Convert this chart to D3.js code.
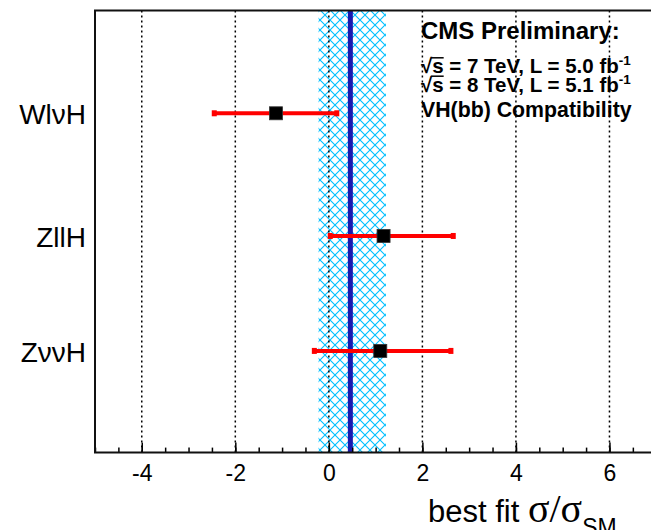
<!DOCTYPE html>
<html>
<head>
<meta charset="utf-8">
<script src="https://cdn.jsdelivr.net/npm/d3@7"></script>
<style>
  body { margin: 0; background: #fff; }
  svg { display: block; }
</style>
</head>
<body>
<svg id="chart" width="651" height="530"></svg>
<script>
// channel results
var channels = ["WlνH", "ZllH", "ZννH"];
var rowPos = [3.07, 1.96, 0.92];
var bestFit = [-1.13, 1.17, 1.10];
var errLow = [-2.45, 0.03, -0.31];
var errHigh = [0.17, 2.66, 2.61];

// combined fit and its band
var combined = 0.46;
var bandLow = -0.22;
var bandHigh = 1.22;

var xTicks = [-4, -2, 0, 2, 4, 6];
var xDomain = [-5, 8];
var yDomain = [0, 4];

var svg = d3.select("#chart");
var pLeft = 95, pRight = 703, pTop = 10.5, pBottom = 452.6;

var x = d3.scaleLinear().domain(xDomain).range([pLeft, pRight]);
var y = d3.scaleLinear().domain(yDomain).range([pBottom, pTop]);

// hatch pattern
var pat = svg.append("defs").append("pattern")
  .attr("id", "hatch")
  .attr("patternUnits", "userSpaceOnUse")
  .attr("width", 10).attr("height", 10);
pat.append("path").attr("d", "M0,0L10,10M10,0L0,10M-1,9L1,11M9,-1L11,1")
  .attr("stroke", "#00bfff").attr("stroke-width", 1.1).attr("fill", "none");

svg.append("rect")
  .attr("x", x(bandLow)).attr("y", pTop)
  .attr("width", x(bandHigh) - x(bandLow)).attr("height", pBottom - pTop)
  .attr("fill", "url(#hatch)");

// dotted grid
svg.append("g").selectAll("line").data(xTicks).enter().append("line")
  .attr("x1", function(d) { return x(d); }).attr("x2", function(d) { return x(d); })
  .attr("y1", pTop).attr("y2", pBottom)
  .attr("stroke", "#000").attr("stroke-width", 1.5).attr("stroke-dasharray", "2,3");

// combined line
svg.append("line")
  .attr("x1", x(combined)).attr("x2", x(combined))
  .attr("y1", pTop).attr("y2", pBottom)
  .attr("stroke", "#1a1ab0").attr("stroke-width", 5);

// x axis with inward ticks
var gx = svg.append("g").attr("transform", "translate(0," + pBottom + ")");
gx.append("g").call(d3.axisBottom(x).tickValues(d3.range(-5, 8.01, 0.5)).tickSize(-5).tickFormat(""))
  .call(function(g) { g.select(".domain").remove(); g.selectAll("line").attr("stroke-width", 1.5); });
gx.append("g").call(d3.axisBottom(x).tickValues(xTicks).tickSize(-10).tickPadding(12).tickFormat(d3.format("d")))
  .call(function(g) {
    g.select(".domain").remove();
    g.selectAll("line").attr("stroke-width", 1.5);
    g.selectAll("text").attr("font-family", "Liberation Sans, Arial, sans-serif")
      .attr("font-size", 23).attr("fill", "#000").text(function(d) { return d < 0 ? "-" + (-d) : d; });
  });

// frame
svg.append("path")
  .attr("d", "M" + (pRight + 5) + "," + pTop + "H" + pLeft + "V" + pBottom + "H" + (pRight + 5))
  .attr("fill", "none").attr("stroke", "#111").attr("stroke-width", 2);

// error bars
var rows = svg.append("g").selectAll("g").data(channels).enter().append("g");
rows.append("line")
  .attr("x1", function(d, i) { return x(errLow[i]); })
  .attr("x2", function(d, i) { return x(errHigh[i]); })
  .attr("y1", function(d, i) { return y(rowPos[i]); })
  .attr("y2", function(d, i) { return y(rowPos[i]); })
  .attr("stroke", "#ff0000").attr("stroke-width", 4);
rows.selectAll("rect.cap")
  .data(function(d, i) { return [errLow[i], errHigh[i]].map(function(v) { return {v: v, r: rowPos[i]}; }); })
  .enter().append("rect").attr("class", "cap")
  .attr("x", function(d) { return x(d.v) - 2.5; })
  .attr("y", function(d) { return y(d.r) - 3; })
  .attr("width", 5).attr("height", 6)
  .attr("fill", "#ff0000");
rows.append("rect")
  .attr("x", function(d, i) { return x(bestFit[i]) - 6.5; })
  .attr("y", function(d, i) { return y(rowPos[i]) - 6.5; })
  .attr("width", 13).attr("height", 13)
  .attr("fill", "#000").attr("stroke", "#333").attr("stroke-width", 0.8);

// channel labels
rows.append("text")
  .attr("x", 86)
  .attr("y", function(d, i) { return y(rowPos[i]) + 11; })
  .attr("text-anchor", "end")
  .attr("font-family", "Liberation Sans, Arial, sans-serif")
  .attr("font-size", 28)
  .text(function(d) { return d; });

// text box
var tf = "Liberation Sans, Arial, sans-serif";
svg.append("text").attr("x", 421).attr("y", 39)
  .attr("font-family", tf).attr("font-weight", "bold").attr("font-size", 24)
  .text("CMS Preliminary:");

var lumi = [["7", "5.0", 73.3], ["8", "5.1", 91.7]];
lumi.forEach(function(l) {
  var t = svg.append("text").attr("x", 421).attr("y", l[2])
    .attr("font-family", tf).attr("font-weight", "bold").attr("font-size", 20.5);
  t.append("tspan").text("√s");
  t.append("tspan").text(" = " + l[0] + " TeV, L = " + l[1] + " fb");
  t.append("tspan").attr("dy", -8).attr("font-size", 13.5).text("-1");
  // bar over the s of the root sign
  var n = t.node();
  var w1 = n.getSubStringLength(0, 1), w2 = n.getSubStringLength(1, 1);
  svg.append("line")
    .attr("x1", 421 + w1 - 1).attr("x2", 421 + w1 + w2)
    .attr("y1", l[2] - 15.5).attr("y2", l[2] - 15.5)
    .attr("stroke", "#000").attr("stroke-width", 1.5);
});

svg.append("text").attr("x", 421).attr("y", 117)
  .attr("font-family", tf).attr("font-weight", "bold").attr("font-size", 21.3)
  .text("VH(bb) Compatibility");

// x title
var xt = svg.append("text").attr("x", 428).attr("y", 521.7)
  .attr("font-family", tf).attr("font-size", 31);
xt.append("tspan").text("best fit ");
xt.append("tspan").attr("font-family", "Liberation Serif, Times New Roman, serif").attr("font-size", 40).text("σ/σ");
xt.append("tspan").attr("dy", 13).attr("font-size", 23).text("SM");
</script>
</body>
</html>
